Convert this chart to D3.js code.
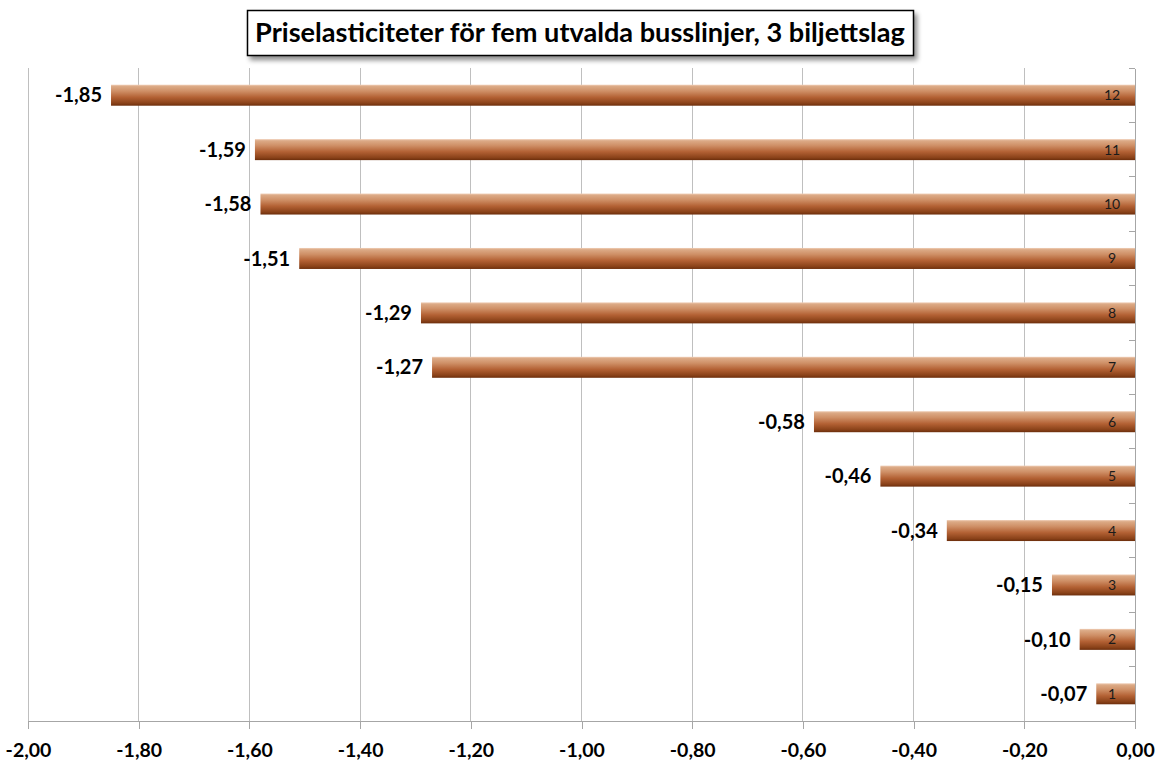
<!DOCTYPE html>
<html>
<head>
<meta charset="utf-8">
<script src="https://cdn.jsdelivr.net/npm/d3@7"></script>
<style>
  html, body { margin: 0; padding: 0; background: #fff; }
  svg { display: block; }
</style>
</head>
<body>
<svg id="chart" width="1173" height="775"></svg>
<script>
const title = "Priselasticiteter för fem utvalda busslinjer, 3 biljettslag";
const categories = ["1","2","3","4","5","6","7","8","9","10","11","12"];
const values = [-0.07,-0.10,-0.15,-0.34,-0.46,-0.58,-1.27,-1.29,-1.51,-1.58,-1.59,-1.85];
const xTicks = [-2.0,-1.8,-1.6,-1.4,-1.2,-1.0,-0.8,-0.6,-0.4,-0.2,0.0];

const svg = d3.select("#chart");
const W = 1173, H = 775;
const margin = {left: 28, right: 38, top: 68, bottom: 54};
const plotW = W - margin.left - margin.right;
const plotH = H - margin.top - margin.bottom;
const fmt = v => v.toFixed(2).replace(".", ",");
const FONT = "Lato, 'Open Sans', sans-serif";

const x = d3.scaleLinear().domain([-2, 0]).range([margin.left, margin.left + plotW]);
const y = d3.scaleBand().domain(categories.slice().reverse()).range([margin.top, margin.top + plotH]).paddingInner(0.614).paddingOuter(0.307);
const yb = d3.scaleBand().domain(categories.slice().reverse()).range([margin.top, margin.top + plotH]);

// defs
const defs = svg.append("defs");
const grad = defs.append("linearGradient").attr("id", "barGrad").attr("x1", 0).attr("y1", 0).attr("x2", 0).attr("y2", 1);
[[0, "#f0cfb8"], [0.08, "#dcaa86"], [0.3, "#cf9067"], [0.6, "#b36134"], [0.88, "#8a4219"], [1, "#6c2e0c"]]
  .forEach(([o, c]) => grad.append("stop").attr("offset", o).attr("stop-color", c));
const shadow = defs.append("filter").attr("id", "shadow").attr("x", "-5%").attr("y", "-30%").attr("width", "115%").attr("height", "180%");
shadow.append("feGaussianBlur").attr("in", "SourceAlpha").attr("stdDeviation", 2.5);
shadow.append("feOffset").attr("dx", 3).attr("dy", 4).attr("result", "b");
shadow.append("feComponentTransfer").append("feFuncA").attr("type", "linear").attr("slope", 0.45);
const m = shadow.append("feMerge");
m.append("feMergeNode");
m.append("feMergeNode").attr("in", "SourceGraphic");

// gridlines
svg.append("g").selectAll("line").data(xTicks.filter(t => t !== 0)).join("line")
  .attr("x1", d => x(d)).attr("x2", d => x(d))
  .attr("y1", margin.top).attr("y2", margin.top + plotH)
  .attr("stroke", "#bfbfbf").attr("stroke-width", 1).attr("shape-rendering", "crispEdges");

// x axis
const xAxis = svg.append("g").attr("transform", `translate(0,${margin.top + plotH})`)
  .call(d3.axisBottom(x).tickValues(xTicks).tickFormat(fmt).tickSize(8).tickPadding(14));
xAxis.select(".domain").attr("stroke", "#a6a6a6").attr("shape-rendering", "crispEdges");
xAxis.selectAll(".tick line").attr("stroke", "#a6a6a6").attr("shape-rendering", "crispEdges");
xAxis.selectAll(".tick text").attr("font-family", FONT).attr("font-weight", "bold").attr("font-size", 19.5).attr("fill", "#000");

// bars
svg.append("g").selectAll("rect").data(values).join("rect")
  .attr("x", d => x(d)).attr("width", d => x(0) - x(d))
  .attr("y", (d, i) => y(categories[i])).attr("height", y.bandwidth())
  .attr("fill", "url(#barGrad)");

// y axis (right at zero)
const yAxis = svg.append("g").attr("transform", `translate(${x(0)},0)`)
  .call(d3.axisLeft(yb).tickValues([]).tickSizeOuter(0));
yAxis.select(".domain").attr("stroke", "#a6a6a6").attr("shape-rendering", "crispEdges");
const bounds = d3.range(categories.length + 1).map(i => margin.top + i * yb.step());
svg.append("g").selectAll("line").data(bounds.slice(0, -1)).join("line")
  .attr("x1", x(0) - 6).attr("x2", x(0))
  .attr("y1", d => d).attr("y2", d => d)
  .attr("stroke", "#a6a6a6").attr("shape-rendering", "crispEdges");

// category labels inside bars
svg.append("g").selectAll("text").data(categories).join("text")
  .attr("x", x(0) - 23).attr("y", d => y(d) + y.bandwidth() / 2)
  .attr("dy", "0.36em").attr("text-anchor", "middle")
  .attr("font-family", FONT).attr("font-size", 14).attr("fill", "#1a1a1a")
  .text(d => d);

// value labels
svg.append("g").selectAll("text").data(values).join("text")
  .attr("x", d => x(d) - 9).attr("y", (d, i) => y(categories[i]) + y.bandwidth() / 2)
  .attr("dy", "0.36em").attr("text-anchor", "end")
  .attr("font-family", FONT).attr("font-weight", "bold").attr("font-size", 20).attr("fill", "#000")
  .text(fmt);

// title
const tg = svg.append("g");
const tbox = tg.append("rect").attr("fill", "#fff").attr("stroke", "#000").attr("stroke-width", 1.5).attr("filter", "url(#shadow)");
const tt = tg.append("text").attr("x", 580).attr("y", 33).attr("dy", "0.35em").attr("text-anchor", "middle")
  .attr("font-family", FONT).attr("font-weight", "bold").attr("font-size", 26).attr("fill", "#000").text(title);
const len = tt.node().getComputedTextLength();
tt.attr("font-size", 26 * 650 / len);
tbox.attr("x", 247.5).attr("y", 10.5).attr("width", 666).attr("height", 45);
</script>
</body>
</html>
